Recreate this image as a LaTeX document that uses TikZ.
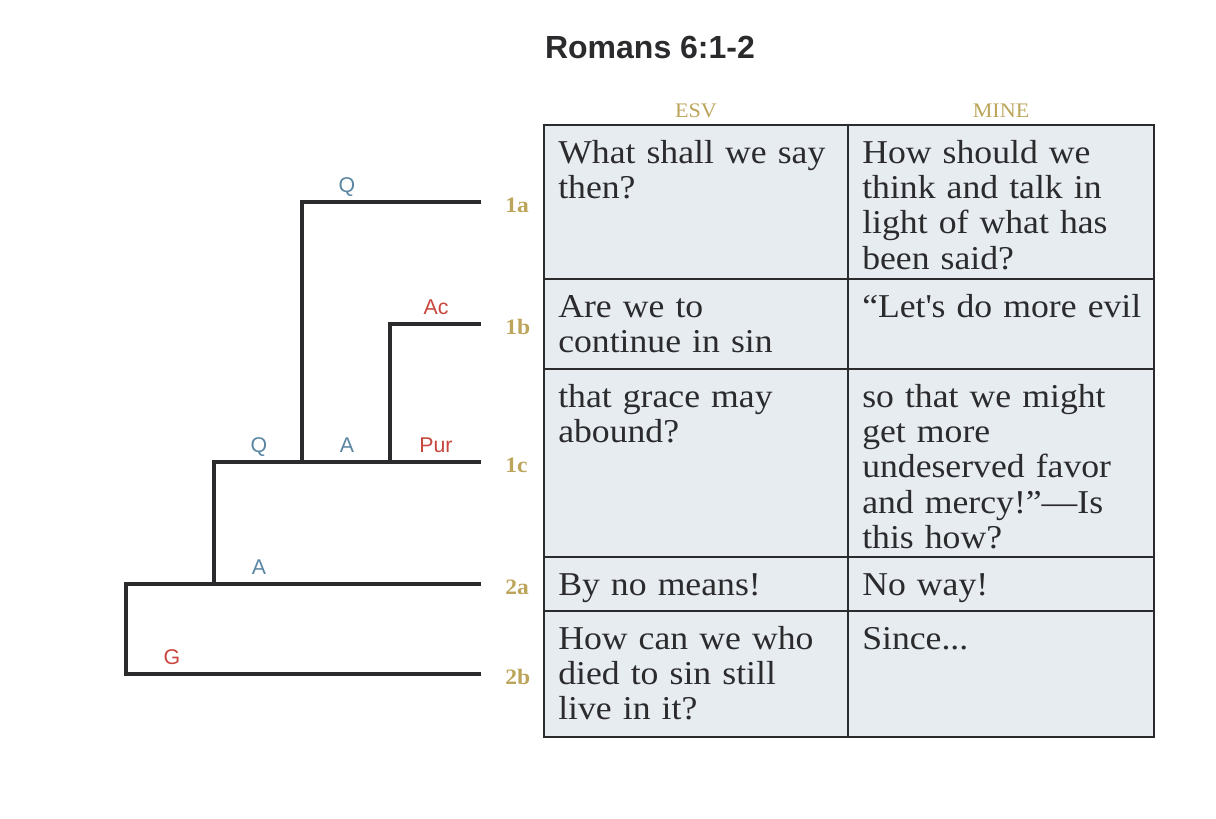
\documentclass[tikz,border=0pt]{standalone}
\usepackage{fontspec}
\setmainfont[FakeStretch=1.07,WordSpace=0.85]{Liberation Serif}
\setsansfont{Liberation Sans}
\usetikzlibrary{positioning}
\definecolor{rmink}{HTML}{2B2B2E}
\definecolor{rmgold}{HTML}{BCA55A}
\definecolor{rmblue}{HTML}{5A86A2}
\definecolor{rmred}{HTML}{C8463C}
\definecolor{rmcell}{HTML}{E7ECF0}
\tikzset{
  branch/.style={draw=rmink,line width=3pt},
  grid/.style={draw=rmink,line width=1.5pt},
  verse/.style={font=\bfseries\fontsize{16.5pt}{18pt}\selectfont,text=rmgold,inner sep=0pt,yshift=-2.5pt},
  role/.style={font=\sffamily\fontsize{16pt}{18pt}\selectfont,inner sep=0pt,anchor=base},
  qa/.style={role,text=rmblue},
  rel/.style={role,text=rmred},
  colhead/.style={font=\fontsize{15.5pt}{18pt}\selectfont,text=rmgold,inner sep=0pt,anchor=base},
  cell/.style={anchor=base west,inner sep=0pt,align=left,text width=260pt,text=rmink,
    font=\fontsize{25pt}{26.6pt}\selectfont}
}
\begin{document}
\begin{tikzpicture}[x=0.75pt,y=-0.75pt]
  \useasboundingbox (0,0) rectangle (1216,818);
  \node[font=\sffamily\bfseries\fontsize{24pt}{28pt}\selectfont,text=rmink,anchor=base] (title) at (650,58) {Romans 6:1-2};
  % table
  \fill[rmcell] (544,125) rectangle (1154,737);
  \foreach \y in {279,369,557,611}
    \draw[grid] (544,\y) -- (1154,\y);
  \draw[grid] (848,125) -- (848,737);
  \draw[grid] (544,125) rectangle (1154,737);
  \node[colhead] (esvh) at (696,117) {ESV};
  \node[colhead] (mineh) at (1001,117) {MINE};
  \node[cell] (esv1) at (558,163) {What shall we say\\then?};
  \node[cell] (mine1) at (862,163) {How should we\\think and talk in\\light of what has\\been said?};
  \node[cell] (esv2) at (558,317) {Are we to\\continue in sin};
  \node[cell] (mine2) at (862,317) {“Let\textquotesingle s do more evil};
  \node[cell] (esv3) at (558,407) {that grace may\\abound?};
  \node[cell] (mine3) at (862,407) {so that we might\\get more\\undeserved favor\\and mercy!”—Is\\this how?};
  \node[cell] (esv4) at (558,595) {By no means!};
  \node[cell] (mine4) at (862,595) {No way!};
  \node[cell] (esv5) at (558,649) {How can we who\\died to sin still\\live in it?};
  \node[cell] (mine5) at (862,649) {Since...};
  % tree
  \coordinate (e1a) at (481,202);
  \coordinate (e1b) at (481,324);
  \coordinate (e1c) at (481,462);
  \coordinate (e2a) at (481,584);
  \coordinate (e2b) at (481,674);
  \coordinate (jq) at (302,462);
  \coordinate (jac) at (390,462);
  \coordinate (j2a) at (214,584);
  \coordinate (j2b) at (126,674);
  \draw[branch] (e1a) -| (jq);
  \draw[branch] (e1b) -| (jac);
  \draw[branch] (e1c) -| (j2a);
  \draw[branch] (e2a) -| (j2b) -- (e2b);
  \node[verse,right=18pt of e1a] (v1a) {1a};
  \node[verse,right=18pt of e1b] (v1b) {1b};
  \node[verse,right=18pt of e1c] (v1c) {1c};
  \node[verse,right=18pt of e2a] (v2a) {2a};
  \node[verse,right=18pt of e2b] (v2b) {2b};
  \node[qa] (q1a) at (347,192) {Q};
  \node[rel] (ac1b) at (436,314) {Ac};
  \node[qa] (q1c) at (259,452) {Q};
  \node[qa] (a1c) at (347,452) {A};
  \node[rel] (pur1c) at (436,452) {Pur};
  \node[qa] (a2a) at (259,574) {A};
  \node[rel] (g2b) at (172,664) {G};
\end{tikzpicture}
\end{document}
